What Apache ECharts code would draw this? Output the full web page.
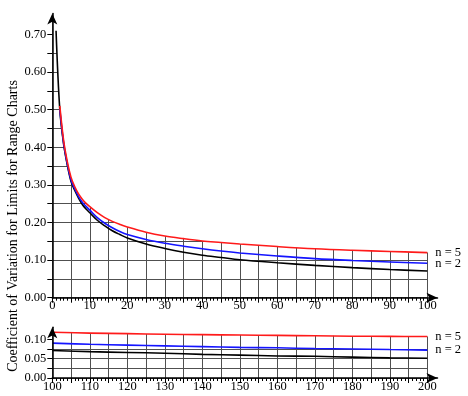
<!DOCTYPE html>
<html><head><meta charset="utf-8">
<script src="https://cdn.jsdelivr.net/npm/echarts@6/dist/echarts.min.js"></script>
<style>html,body{margin:0;padding:0;background:#fff}#c{width:468px;height:396px}</style>
</head><body><div id="c"></div>
<script>
// ---- data ----
const topX     = [1, 2, 3, 4, 5, 6, 7, 8, 9, 10, 12, 14, 16, 18, 20, 25, 30, 35, 40, 45, 50, 60, 70, 80, 90, 100];
const topRed   = [null, 0.510, 0.420, 0.362, 0.320, 0.295, 0.276, 0.262, 0.251, 0.242, 0.226, 0.213, 0.203, 0.195, 0.188, 0.174, 0.164, 0.157, 0.151, 0.147, 0.143, 0.136, 0.130, 0.126, 0.123, 0.120];
const topBlue  = [null, 0.502, 0.413, 0.356, 0.313, 0.289, 0.269, 0.254, 0.243, 0.233, 0.213, 0.198, 0.186, 0.176, 0.168, 0.155, 0.145, 0.137, 0.130, 0.124, 0.119, 0.111, 0.104, 0.099, 0.095, 0.0915];
const topBlack = [0.710, 0.500, 0.410, 0.353, 0.309, 0.285, 0.265, 0.248, 0.236, 0.226, 0.206, 0.191, 0.178, 0.168, 0.159, 0.143, 0.131, 0.121, 0.113, 0.107, 0.101, 0.093, 0.086, 0.080, 0.075, 0.071];

const botX     = [100, 110, 120, 130, 140, 150, 160, 170, 180, 190, 200];
const botRed   = [0.118, 0.116, 0.1145, 0.113, 0.112, 0.111, 0.110, 0.109, 0.108, 0.1075, 0.107];
const botBlue  = [0.090, 0.087, 0.085, 0.083, 0.081, 0.079, 0.078, 0.076, 0.075, 0.0735, 0.072];
const botBlack = [0.071, 0.068, 0.066, 0.064, 0.061, 0.059, 0.057, 0.056, 0.054, 0.052, 0.051];

// tick and label positions
const topYTicks  = [0, 0.05, 0.10, 0.15, 0.20, 0.25, 0.30, 0.35, 0.40, 0.45, 0.50, 0.55, 0.60, 0.65, 0.70];
const topYLabels = [0, 0.10, 0.20, 0.30, 0.40, 0.50, 0.60, 0.70];
const botYTicks  = [0, 0.025, 0.05, 0.075, 0.10];
const botYLabels = [0, 0.05, 0.10];

const labelTop = 'n = 5';
const labelBot = 'n = 2';
const yTitle = 'Coefficient of Variation for Limits for Range Charts';

// ---- helpers ----
const FONT = 'Liberation Serif';
const topMax = 0.75, botMax = 0.125;
function pairs(xs, ys){ const out=[]; xs.forEach((x,i)=>{ if(ys[i]!=null) out.push([x, ys[i]]); }); return out; }
function envelope(xs, arrs){ return xs.map((x,i)=>Math.max(...arrs.map(a=>a[i]).filter(v=>v!=null))); }
const topEnv = envelope(topX, [topRed, topBlue, topBlack]);
const botEnv = envelope(botX, [botRed, botBlue, botBlack]);

const gridLine = {show:true, showMaxLine:false, lineStyle:{color:'#505050', width:1}};
const gridLineX = {show:true, lineStyle:{color:'#505050', width:1}};
const lbl = {color:'#000', fontFamily:FONT, fontSize:12.5};
const SMOOTH = 0.35;

function curve(name, xs, ys, color, xi, yi, endText){
  const s = {type:'line', name, xAxisIndex:xi, yAxisIndex:yi, data:pairs(xs, ys), z:5,
    smooth:SMOOTH, showSymbol:false, symbol:'none',
    lineStyle:{color, width:1.6}, itemStyle:{color}};
  if (endText) s.endLabel = {show:true, formatter:endText, distance:8, color:'#000', fontFamily:FONT, fontSize:12.5};
  return s;
}
// white fill from the upper envelope of the curves upward: hides the grid above the curves
function cover(xs, env, xi, yi, originVal){
  const d = xs.map((x,i)=>[x, env[i]]);
  const n = xs.length;
  d.push([xs[n-1] + (xs[n-1]-xs[0]) * 0.006, env[n-1]]);
  return {type:'line', xAxisIndex:xi, yAxisIndex:yi, data:d, smooth:SMOOTH, clip:false,
     symbol:'none', showSymbol:false, lineStyle:{width:0, opacity:0},
     areaStyle:{color:'#fff', opacity:1, origin:originVal}, z:2, silent:true};
}

const chart = echarts.init(document.getElementById('c'), null, {renderer:'canvas'});
const decoLine = {show:true, symbol:['none','arrow'], symbolSize:[7.5, 11], lineStyle:{color:'#000', width:1.5}};
const deco = gi => ({type:'value', gridIndex:gi, min:0, max:1, z:20, axisLine:decoLine, axisTick:{show:false}, axisLabel:{show:false}, splitLine:{show:false}});
const xLabelFmt = v => (Math.round(v)%10===0 ? String(Math.round(v)) : '');
const option = {
  animation:false,
  backgroundColor:'#fff',
  grid:[
    {left:52.3, right:40.7, top:15.7, bottom:98.3},
    {left:52.3, right:40.7, top:329.6, bottom:18},
    {left:52.3, right:30.5, top:13.5, bottom:98.3},
    {left:52.3, right:30.5, top:327.2, bottom:18}
  ],
  xAxis:[
    {type:'value', gridIndex:0, min:0, max:100, interval:5, axisLine:{show:false},
     axisTick:{show:true, length:5, lineStyle:{color:'#000'}},
     minorTick:{show:true, splitNumber:5, length:3, lineStyle:{color:'#000'}},
     splitLine:gridLineX,
     axisLabel:Object.assign({margin:2, formatter:xLabelFmt}, lbl)},
    {type:'value', gridIndex:1, min:100, max:200, interval:5, axisLine:{show:false},
     axisTick:{show:true, length:5, lineStyle:{color:'#000'}},
     minorTick:{show:true, splitNumber:5, length:3, lineStyle:{color:'#000'}},
     splitLine:gridLineX,
     axisLabel:Object.assign({margin:2, formatter:xLabelFmt}, lbl)},
    deco(2), deco(3)
  ],
  yAxis:[
    {type:'value', gridIndex:0, min:0, max:topMax, interval:0.05, axisLine:{show:false},
     axisTick:{show:true, length:5, customValues:topYTicks, lineStyle:{color:'#000'}},
     splitLine:gridLine,
     axisLabel:Object.assign({margin:6, customValues:topYLabels, formatter:v=>v.toFixed(2)}, lbl)},
    {type:'value', gridIndex:1, min:0, max:botMax, interval:0.025, axisLine:{show:false},
     axisTick:{show:true, length:5, customValues:botYTicks, lineStyle:{color:'#000'}},
     splitLine:gridLine,
     axisLabel:Object.assign({margin:6, customValues:botYLabels, formatter:v=>v.toFixed(2)}, lbl)},
    deco(2), deco(3)
  ],
  graphic:[
    {type:'text', x:13, y:226, rotation:Math.PI/2,
     style:{text:yTitle, fill:'#000', font:'14px "Liberation Serif"', align:'center', verticalAlign:'middle', textAlign:'center', textVerticalAlign:'middle'}}
  ],
  series:[
    cover(topX, topEnv, 0, 0, 0.77),
    cover(botX, botEnv, 1, 1, 0.14),
    curve('topBlack', topX, topBlack, '#000000', 0, 0),
    curve('topBlue', topX, topBlue, '#1414ff', 0, 0, labelBot),
    curve('topRed', topX, topRed, '#ff1a1a', 0, 0, labelTop),
    curve('botBlack', botX, botBlack, '#000000', 1, 1),
    curve('botBlue', botX, botBlue, '#1414ff', 1, 1, labelBot),
    curve('botRed', botX, botRed, '#ff1a1a', 1, 1, labelTop)
  ]
};
chart.setOption(option);
</script>
</body></html>
